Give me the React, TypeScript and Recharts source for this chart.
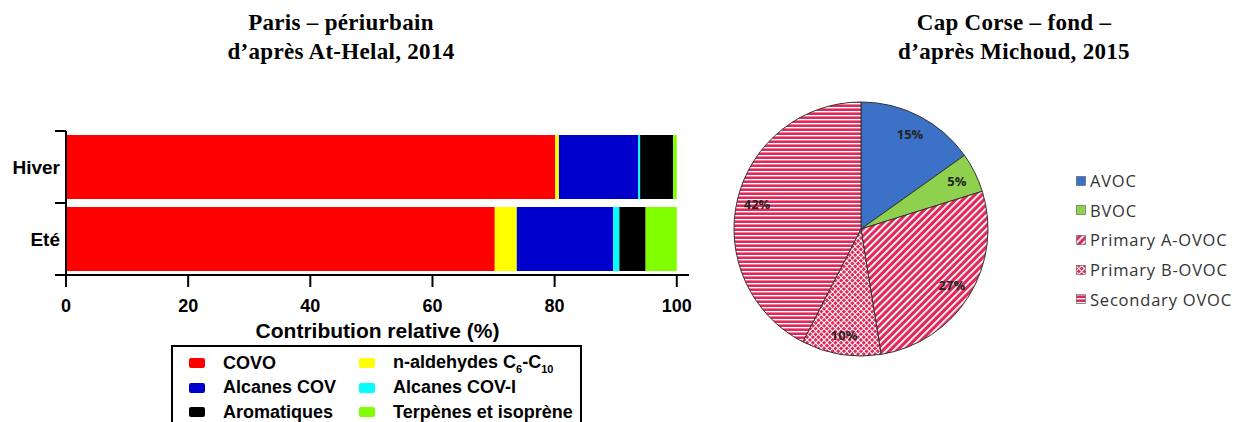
import React from "react";
import { BarChart, Bar, XAxis, YAxis, PieChart, Pie, Cell } from "recharts";

// bar chart (Paris)
const seasons = ["Hiver", "Eté"];
const groupNames = [
  "COVO",
  "n-aldehydes",
  "Alcanes COV",
  "Alcanes COV-I",
  "Aromatiques",
  "Terpènes et isoprène",
];
const groupColors = ["#ff0000", "#ffff00", "#0000cc", "#00ffff", "#000000", "#80ff00"];
const hiverValues = [80.1, 0.6, 13.0, 0.3, 5.4, 0.6];
const eteValues = [70.2, 3.6, 15.8, 1.0, 4.3, 5.1];
const xTicks = [0, 20, 40, 60, 80, 100];

// pie chart (Cap Corse)
const pieNames = ["AVOC", "BVOC", "Primary A-OVOC", "Primary B-OVOC", "Secondary OVOC"];
const pieValues = [15, 5, 27, 10, 42];
const pieFills = ["#3b72c8", "#8fd14f", "url(#stripeA)", "url(#crossB)", "url(#horizC)"];

const PINK = "#e0295b";

const barData = seasons.map((s, i) => {
  const vals = i === 0 ? hiverValues : eteValues;
  const row: Record<string, any> = { season: s };
  groupNames.forEach((g, j) => (row[g] = vals[j]));
  return row;
});

const pieData = pieNames.map((n, i) => ({ name: n, value: pieValues[i] }));

const PLOT_LEFT = 66;
const BAND = 72;

const YTick = (props: any) => {
  const { x, y, payload, index } = props;
  return (
    <g>
      <line x1={PLOT_LEFT - 11} x2={PLOT_LEFT} y1={y - BAND / 2} y2={y - BAND / 2} stroke="#000" strokeWidth={2} />
      {index === seasons.length - 1 && (
        <line x1={PLOT_LEFT - 11} x2={PLOT_LEFT} y1={y + BAND / 2} y2={y + BAND / 2} stroke="#000" strokeWidth={2} />
      )}
      <text x={x + 2} y={y} textAnchor="end" dominantBaseline="central" fontWeight="bold" fontSize={19} fill="#000">
        {payload.value}
      </text>
    </g>
  );
};

const RAD = Math.PI / 180;
const pieLabel = (props: any) => {
  const { cx, cy, midAngle, index } = props;
  const r = 107;
  const x = cx + r * Math.cos(-midAngle * RAD);
  const y = cy + r * Math.sin(-midAngle * RAD);
  return (
    <text x={x} y={y} textAnchor="middle" dominantBaseline="central" fontSize={13} fontWeight="bold" fill="#222"
      fontFamily="'Open Sans', sans-serif">
      {pieValues[index]}%
    </text>
  );
};

const titleStyle: React.CSSProperties = {
  position: "absolute",
  fontFamily: "'Liberation Serif', serif",
  fontWeight: "bold",
  fontSize: 23,
  letterSpacing: 0.3,
  lineHeight: "29px",
  textAlign: "center",
  width: 400,
};

const App = () => {
  return (
    <div style={{ position: "absolute", left: 0, top: 0, width: 1238, height: 422, background: "#fff", overflow: "hidden" }}>
      <div style={{ ...titleStyle, left: 141, top: 8 }}>
        Paris – périurbain
        <br />
        d’après At-Helal, 2014
      </div>
      <div style={{ ...titleStyle, left: 814, top: 8 }}>
        Cap Corse – fond –
        <br />
        d’après Michoud, 2015
      </div>

      <div style={{ position: "absolute", left: 0, top: 0 }}>
        <BarChart
          width={700}
          height={345}
          data={barData}
          layout="vertical"
          barCategoryGap={4}
          margin={{ top: 131, right: 11, bottom: 6, left: 6 }}
          style={{ fontFamily: "'Liberation Sans', Arial, sans-serif" }}
        >
          <XAxis
            type="number"
            domain={[0, 102]}
            ticks={xTicks}
            height={64}
            tickSize={12}
            tickMargin={12}
            axisLine={{ stroke: "#000", strokeWidth: 2 }}
            tickLine={{ stroke: "#000", strokeWidth: 2 }}
            tick={{ fill: "#000", fontSize: 18, fontWeight: "bold" }}
            label={{ value: "Contribution relative (%)", position: "insideBottom", offset: 1, fill: "#000", fontSize: 21, fontWeight: "bold" }}
          />
          <YAxis
            type="category"
            dataKey="season"
            width={60}
            tickLine={false}
            axisLine={{ stroke: "#000", strokeWidth: 2 }}
            tick={<YTick />}
          />
          {groupNames.map((g, i) => (
            <Bar key={g} dataKey={g} stackId="a" fill={groupColors[i]} isAnimationActive={false} />
          ))}
        </BarChart>
      </div>

      <div
        style={{
          position: "absolute",
          left: 171,
          top: 345,
          width: 407,
          height: 90,
          border: "2px solid #000",
          background: "#fff",
          fontFamily: "'Liberation Sans', Arial, sans-serif",
          fontWeight: "bold",
          fontSize: 18,
        }}
      >
        {groupNames.map((g, i) => (
          <div
            key={g}
            style={{
              position: "absolute",
              left: (i % 2) * 170 + 16,
              top: 5 + Math.floor(i / 2) * 24.5,
              height: 22,
              display: "flex",
              alignItems: "center",
              whiteSpace: "nowrap",
            }}
          >
            <span style={{ width: 16, height: 10, borderRadius: 2, background: groupColors[i], display: "inline-block", marginRight: 18 }} />
            {i === 1 ? (
              <span>
                n-aldehydes C<sub style={{ fontSize: 11 }}>6</sub>-C<sub style={{ fontSize: 11 }}>10</sub>
              </span>
            ) : (
              g
            )}
          </div>
        ))}
      </div>

      <div style={{ position: "absolute", left: 711, top: 79 }}>
        <PieChart width={300} height={300} margin={{ top: 0, right: 0, bottom: 0, left: 0 }}>
          <defs>
            <pattern id="stripeA" patternUnits="userSpaceOnUse" width={5} height={5} patternTransform="rotate(45)">
              <rect width={5} height={5} fill={PINK} />
              <rect width={1.8} height={5} fill="#fff" />
            </pattern>
            <pattern id="crossB" patternUnits="userSpaceOnUse" width={4} height={4} patternTransform="rotate(45)">
              <rect width={4} height={4} fill={PINK} />
              <rect width={1} height={4} fill="#fff" />
              <rect width={4} height={1} fill="#fff" />
            </pattern>
            <pattern id="horizC" patternUnits="userSpaceOnUse" width={4} height={4}>
              <rect width={4} height={4} fill={PINK} />
              <rect width={4} height={1.4} fill="#fff" />
            </pattern>
          </defs>
          <Pie
            data={pieData}
            dataKey="value"
            nameKey="name"
            cx={150}
            cy={150}
            outerRadius={127}
            startAngle={90}
            endAngle={-270}
            stroke="#333"
            strokeWidth={1}
            label={pieLabel}
            labelLine={false}
            isAnimationActive={false}
          >
            {pieData.map((d, i) => (
              <Cell key={d.name} fill={pieFills[i]} />
            ))}
          </Pie>
        </PieChart>
      </div>

      <div
        style={{
          position: "absolute",
          left: 1076,
          top: 166,
          fontFamily: "'Open Sans', sans-serif",
          fontSize: 16.5,
          letterSpacing: 0.8,
          color: "#333",
        }}
      >
        {pieNames.map((n, i) => (
          <div key={n} style={{ height: 29.6, display: "flex", alignItems: "center", whiteSpace: "nowrap" }}>
            <svg width={10} height={10} style={{ marginRight: 4 }}>
              <rect x={0.5} y={0.5} width={9} height={9} fill={pieFills[i]} stroke="#555" strokeWidth={0.6} />
            </svg>
            {n}
          </div>
        ))}
      </div>
    </div>
  );
};

export default App;
